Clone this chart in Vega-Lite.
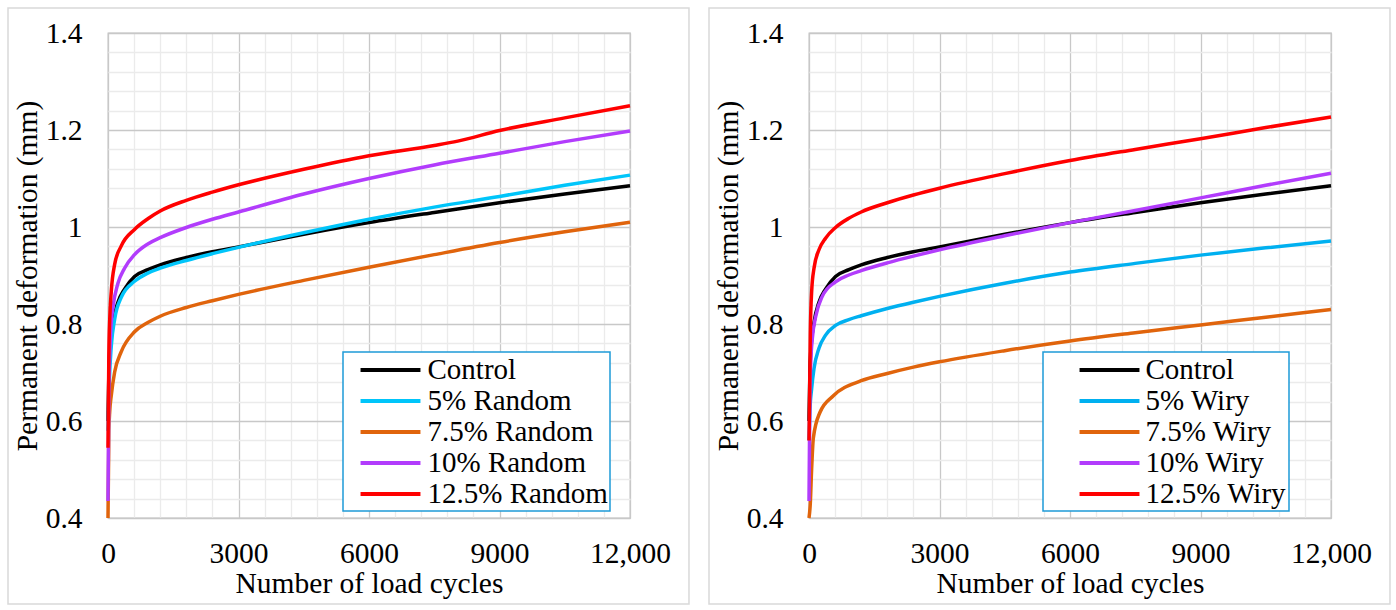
{
  "$schema": "https://vega.github.io/schema/vega-lite/v6.json",
  "background": "white",
  "padding": {"left": 6, "top": 6, "right": 4, "bottom": 4},
  "spacing": 16,
  "datasets": {
    "random": [
      {"series": "Control", "cycles": 0, "def": 0.60},
      {"series": "Control", "cycles": 20, "def": 0.70},
      {"series": "Control", "cycles": 45, "def": 0.75},
      {"series": "Control", "cycles": 115, "def": 0.803},
      {"series": "Control", "cycles": 229, "def": 0.845},
      {"series": "Control", "cycles": 381, "def": 0.872},
      {"series": "Control", "cycles": 610, "def": 0.898},
      {"series": "Control", "cycles": 916, "def": 0.912},
      {"series": "Control", "cycles": 1200, "def": 0.922},
      {"series": "Control", "cycles": 1800, "def": 0.937},
      {"series": "Control", "cycles": 2400, "def": 0.949},
      {"series": "Control", "cycles": 3000, "def": 0.959},
      {"series": "Control", "cycles": 4500, "def": 0.985},
      {"series": "Control", "cycles": 6000, "def": 1.009},
      {"series": "Control", "cycles": 7500, "def": 1.030},
      {"series": "Control", "cycles": 9000, "def": 1.050},
      {"series": "Control", "cycles": 10500, "def": 1.068},
      {"series": "Control", "cycles": 12000, "def": 1.085},
      {"series": "5% Random", "cycles": 0, "def": 0.58},
      {"series": "5% Random", "cycles": 30, "def": 0.68},
      {"series": "5% Random", "cycles": 76, "def": 0.755},
      {"series": "5% Random", "cycles": 153, "def": 0.81},
      {"series": "5% Random", "cycles": 305, "def": 0.855},
      {"series": "5% Random", "cycles": 610, "def": 0.888},
      {"series": "5% Random", "cycles": 916, "def": 0.905},
      {"series": "5% Random", "cycles": 1200, "def": 0.915},
      {"series": "5% Random", "cycles": 1800, "def": 0.931},
      {"series": "5% Random", "cycles": 2400, "def": 0.945},
      {"series": "5% Random", "cycles": 3000, "def": 0.958},
      {"series": "5% Random", "cycles": 4500, "def": 0.988},
      {"series": "5% Random", "cycles": 6000, "def": 1.016},
      {"series": "5% Random", "cycles": 7500, "def": 1.041},
      {"series": "5% Random", "cycles": 9000, "def": 1.063},
      {"series": "5% Random", "cycles": 10500, "def": 1.086},
      {"series": "5% Random", "cycles": 12000, "def": 1.107},
      {"series": "7.5% Random", "cycles": 0, "def": 0.40},
      {"series": "7.5% Random", "cycles": 20, "def": 0.58},
      {"series": "7.5% Random", "cycles": 40, "def": 0.62},
      {"series": "7.5% Random", "cycles": 76, "def": 0.653},
      {"series": "7.5% Random", "cycles": 153, "def": 0.701},
      {"series": "7.5% Random", "cycles": 305, "def": 0.743},
      {"series": "7.5% Random", "cycles": 610, "def": 0.784},
      {"series": "7.5% Random", "cycles": 916, "def": 0.803},
      {"series": "7.5% Random", "cycles": 1200, "def": 0.816},
      {"series": "7.5% Random", "cycles": 1800, "def": 0.834},
      {"series": "7.5% Random", "cycles": 2400, "def": 0.848},
      {"series": "7.5% Random", "cycles": 3000, "def": 0.861},
      {"series": "7.5% Random", "cycles": 4500, "def": 0.890},
      {"series": "7.5% Random", "cycles": 6000, "def": 0.917},
      {"series": "7.5% Random", "cycles": 7500, "def": 0.943},
      {"series": "7.5% Random", "cycles": 9000, "def": 0.968},
      {"series": "7.5% Random", "cycles": 10500, "def": 0.990},
      {"series": "7.5% Random", "cycles": 12000, "def": 1.010},
      {"series": "10% Random", "cycles": 0, "def": 0.435},
      {"series": "10% Random", "cycles": 20, "def": 0.66},
      {"series": "10% Random", "cycles": 40, "def": 0.74},
      {"series": "10% Random", "cycles": 61, "def": 0.785},
      {"series": "10% Random", "cycles": 115, "def": 0.835},
      {"series": "10% Random", "cycles": 229, "def": 0.884},
      {"series": "10% Random", "cycles": 381, "def": 0.915},
      {"series": "10% Random", "cycles": 610, "def": 0.943},
      {"series": "10% Random", "cycles": 916, "def": 0.965},
      {"series": "10% Random", "cycles": 1200, "def": 0.978},
      {"series": "10% Random", "cycles": 1800, "def": 0.999},
      {"series": "10% Random", "cycles": 2400, "def": 1.016},
      {"series": "10% Random", "cycles": 3000, "def": 1.031},
      {"series": "10% Random", "cycles": 4500, "def": 1.068},
      {"series": "10% Random", "cycles": 6000, "def": 1.100},
      {"series": "10% Random", "cycles": 7500, "def": 1.128},
      {"series": "10% Random", "cycles": 9000, "def": 1.152},
      {"series": "10% Random", "cycles": 10500, "def": 1.176},
      {"series": "10% Random", "cycles": 12000, "def": 1.198},
      {"series": "12.5% Random", "cycles": 0, "def": 0.545},
      {"series": "12.5% Random", "cycles": 20, "def": 0.74},
      {"series": "12.5% Random", "cycles": 40, "def": 0.81},
      {"series": "12.5% Random", "cycles": 76, "def": 0.868},
      {"series": "12.5% Random", "cycles": 153, "def": 0.923},
      {"series": "12.5% Random", "cycles": 305, "def": 0.961},
      {"series": "12.5% Random", "cycles": 610, "def": 0.995},
      {"series": "12.5% Random", "cycles": 916, "def": 1.017},
      {"series": "12.5% Random", "cycles": 1200, "def": 1.033},
      {"series": "12.5% Random", "cycles": 1800, "def": 1.055},
      {"series": "12.5% Random", "cycles": 2400, "def": 1.072},
      {"series": "12.5% Random", "cycles": 3000, "def": 1.087},
      {"series": "12.5% Random", "cycles": 4500, "def": 1.119},
      {"series": "12.5% Random", "cycles": 6000, "def": 1.147},
      {"series": "12.5% Random", "cycles": 7500, "def": 1.168},
      {"series": "12.5% Random", "cycles": 8040, "def": 1.177},
      {"series": "12.5% Random", "cycles": 9000, "def": 1.199},
      {"series": "12.5% Random", "cycles": 10500, "def": 1.225},
      {"series": "12.5% Random", "cycles": 12000, "def": 1.250}
    ],
    "wiry": [
      {"series": "Control", "cycles": 0, "def": 0.60},
      {"series": "Control", "cycles": 20, "def": 0.70},
      {"series": "Control", "cycles": 45, "def": 0.75},
      {"series": "Control", "cycles": 115, "def": 0.803},
      {"series": "Control", "cycles": 229, "def": 0.845},
      {"series": "Control", "cycles": 381, "def": 0.872},
      {"series": "Control", "cycles": 610, "def": 0.898},
      {"series": "Control", "cycles": 916, "def": 0.912},
      {"series": "Control", "cycles": 1200, "def": 0.922},
      {"series": "Control", "cycles": 1800, "def": 0.937},
      {"series": "Control", "cycles": 2400, "def": 0.949},
      {"series": "Control", "cycles": 3000, "def": 0.959},
      {"series": "Control", "cycles": 4500, "def": 0.985},
      {"series": "Control", "cycles": 6000, "def": 1.009},
      {"series": "Control", "cycles": 7500, "def": 1.030},
      {"series": "Control", "cycles": 9000, "def": 1.050},
      {"series": "Control", "cycles": 10500, "def": 1.068},
      {"series": "Control", "cycles": 12000, "def": 1.085},
      {"series": "5% Wiry", "cycles": 0, "def": 0.56},
      {"series": "5% Wiry", "cycles": 20, "def": 0.62},
      {"series": "5% Wiry", "cycles": 61, "def": 0.667},
      {"series": "5% Wiry", "cycles": 115, "def": 0.708},
      {"series": "5% Wiry", "cycles": 229, "def": 0.750},
      {"series": "5% Wiry", "cycles": 381, "def": 0.777},
      {"series": "5% Wiry", "cycles": 610, "def": 0.797},
      {"series": "5% Wiry", "cycles": 916, "def": 0.809},
      {"series": "5% Wiry", "cycles": 1200, "def": 0.817},
      {"series": "5% Wiry", "cycles": 1800, "def": 0.832},
      {"series": "5% Wiry", "cycles": 2400, "def": 0.845},
      {"series": "5% Wiry", "cycles": 3000, "def": 0.857},
      {"series": "5% Wiry", "cycles": 4500, "def": 0.884},
      {"series": "5% Wiry", "cycles": 6000, "def": 0.907},
      {"series": "5% Wiry", "cycles": 7500, "def": 0.925},
      {"series": "5% Wiry", "cycles": 9000, "def": 0.942},
      {"series": "5% Wiry", "cycles": 10500, "def": 0.957},
      {"series": "5% Wiry", "cycles": 12000, "def": 0.971},
      {"series": "7.5% Wiry", "cycles": 0, "def": 0.40},
      {"series": "7.5% Wiry", "cycles": 30, "def": 0.43},
      {"series": "7.5% Wiry", "cycles": 60, "def": 0.50},
      {"series": "7.5% Wiry", "cycles": 100, "def": 0.565},
      {"series": "7.5% Wiry", "cycles": 253, "def": 0.618},
      {"series": "7.5% Wiry", "cycles": 560, "def": 0.652},
      {"series": "7.5% Wiry", "cycles": 1200, "def": 0.683},
      {"series": "7.5% Wiry", "cycles": 1800, "def": 0.698},
      {"series": "7.5% Wiry", "cycles": 2400, "def": 0.711},
      {"series": "7.5% Wiry", "cycles": 3000, "def": 0.722},
      {"series": "7.5% Wiry", "cycles": 4500, "def": 0.745},
      {"series": "7.5% Wiry", "cycles": 6000, "def": 0.765},
      {"series": "7.5% Wiry", "cycles": 7500, "def": 0.782},
      {"series": "7.5% Wiry", "cycles": 9000, "def": 0.798},
      {"series": "7.5% Wiry", "cycles": 10500, "def": 0.814},
      {"series": "7.5% Wiry", "cycles": 12000, "def": 0.830},
      {"series": "10% Wiry", "cycles": 0, "def": 0.435},
      {"series": "10% Wiry", "cycles": 20, "def": 0.65},
      {"series": "10% Wiry", "cycles": 40, "def": 0.72},
      {"series": "10% Wiry", "cycles": 76, "def": 0.770},
      {"series": "10% Wiry", "cycles": 153, "def": 0.815},
      {"series": "10% Wiry", "cycles": 305, "def": 0.857},
      {"series": "10% Wiry", "cycles": 610, "def": 0.887},
      {"series": "10% Wiry", "cycles": 916, "def": 0.901},
      {"series": "10% Wiry", "cycles": 1200, "def": 0.910},
      {"series": "10% Wiry", "cycles": 1800, "def": 0.926},
      {"series": "10% Wiry", "cycles": 2400, "def": 0.940},
      {"series": "10% Wiry", "cycles": 3000, "def": 0.953},
      {"series": "10% Wiry", "cycles": 4500, "def": 0.982},
      {"series": "10% Wiry", "cycles": 6000, "def": 1.009},
      {"series": "10% Wiry", "cycles": 7500, "def": 1.034},
      {"series": "10% Wiry", "cycles": 9000, "def": 1.060},
      {"series": "10% Wiry", "cycles": 10500, "def": 1.086},
      {"series": "10% Wiry", "cycles": 12000, "def": 1.111},
      {"series": "12.5% Wiry", "cycles": 0, "def": 0.56},
      {"series": "12.5% Wiry", "cycles": 15, "def": 0.66},
      {"series": "12.5% Wiry", "cycles": 30, "def": 0.78},
      {"series": "12.5% Wiry", "cycles": 61, "def": 0.867},
      {"series": "12.5% Wiry", "cycles": 115, "def": 0.915},
      {"series": "12.5% Wiry", "cycles": 229, "def": 0.953},
      {"series": "12.5% Wiry", "cycles": 381, "def": 0.977},
      {"series": "12.5% Wiry", "cycles": 610, "def": 0.999},
      {"series": "12.5% Wiry", "cycles": 916, "def": 1.018},
      {"series": "12.5% Wiry", "cycles": 1200, "def": 1.031},
      {"series": "12.5% Wiry", "cycles": 1800, "def": 1.050},
      {"series": "12.5% Wiry", "cycles": 2400, "def": 1.066},
      {"series": "12.5% Wiry", "cycles": 3000, "def": 1.080},
      {"series": "12.5% Wiry", "cycles": 4500, "def": 1.110},
      {"series": "12.5% Wiry", "cycles": 6000, "def": 1.137},
      {"series": "12.5% Wiry", "cycles": 7500, "def": 1.160},
      {"series": "12.5% Wiry", "cycles": 9000, "def": 1.182},
      {"series": "12.5% Wiry", "cycles": 10500, "def": 1.205},
      {"series": "12.5% Wiry", "cycles": 12000, "def": 1.227}
    ]
  },
  "hconcat": [
    {
      "width": 522,
      "height": 485,
      "layer": [
        {
          "data": {"values": [{}]},
          "mark": {"type": "rect", "fill": null, "stroke": "#d9d9d9", "strokeWidth": 1.5, "clip": false},
          "encoding": {
            "x": {"datum": -2299, "type": "quantitative", "scale": {"domain": [0, 12000], "nice": false, "zero": false}, "axis": null},
            "x2": {"datum": 13356},
            "y": {"datum": 1.4515, "type": "quantitative", "scale": {"domain": [0.4, 1.4], "nice": false, "zero": false}, "axis": null},
            "y2": {"datum": 0.2227}
          }
        },
        {
          "data": {"name": "random"},
          "mark": {"type": "line", "strokeWidth": 3.5, "interpolate": "monotone"},
          "encoding": {
            "x": {
              "field": "cycles",
              "type": "quantitative",
              "scale": {"domain": [0, 12000], "nice": false, "zero": false},
              "axis": {
                "orient": "bottom",
                "title": "Number of load cycles",
                "values": [0, 600, 1200, 1800, 2400, 3000, 3600, 4200, 4800, 5400, 6000, 6600, 7200, 7800, 8400, 9000, 9600, 10200, 10800, 11400, 12000],
                "format": "d",
                "labelExpr": "datum.value == 12000 ? '12,000' : (datum.value % 3000 == 0 ? datum.label : '')",
                "grid": true,
                "gridColor": {"condition": {"test": "datum.value % 3000 == 0", "value": "#c8c8c8"}, "value": "#ebebeb"},
                "labelOverlap": false,
                "labelFlush": false,
                "labelPadding": 21,
                "titlePadding": 2
              }
            },
            "y": {
              "field": "def",
              "type": "quantitative",
              "scale": {"domain": [0.4, 1.4], "nice": false, "zero": false},
              "axis": {
                "orient": "left",
                "title": "Permanent deformation (mm)",
                "values": [0.4, 0.44, 0.48, 0.52, 0.56, 0.6, 0.64, 0.68, 0.72, 0.76, 0.8, 0.84, 0.88, 0.92, 0.96, 1, 1.04, 1.08, 1.12, 1.16, 1.2, 1.24, 1.28, 1.32, 1.36, 1.4],
                "format": "~g",
                "labelExpr": "round(datum.value * 100) % 20 == 0 ? datum.label : ''",
                "grid": true,
                "gridColor": {"condition": {"test": "round(datum.value * 100) % 20 == 0", "value": "#c8c8c8"}, "value": "#ebebeb"},
                "labelOverlap": false,
                "labelFlush": false,
                "labelPadding": 26,
                "titlePadding": 3
              }
            },
            "color": {
              "field": "series",
              "type": "nominal",
              "scale": {
                "domain": ["Control", "5% Random", "7.5% Random", "10% Random", "12.5% Random"],
                "range": ["#000000", "#00c5fa", "#e0640c", "#b23cfc", "#ff0000"]
              },
              "legend": {"orient": "none", "legendX": 235, "legendY": 319, "symbolOffset": 29.5, "labelOffset": 21}
            }
          }
        }
      ],
      "resolve": {"scale": {"x": "independent", "y": "independent"}, "axis": {"x": "independent", "y": "independent"}}
    },
    {
      "width": 522,
      "height": 485,
      "layer": [
        {
          "data": {"values": [{}]},
          "mark": {"type": "rect", "fill": null, "stroke": "#d9d9d9", "strokeWidth": 1.5, "clip": false},
          "encoding": {
            "x": {"datum": -2299, "type": "quantitative", "scale": {"domain": [0, 12000], "nice": false, "zero": false}, "axis": null},
            "x2": {"datum": 13356},
            "y": {"datum": 1.4515, "type": "quantitative", "scale": {"domain": [0.4, 1.4], "nice": false, "zero": false}, "axis": null},
            "y2": {"datum": 0.2227}
          }
        },
        {
          "data": {"name": "wiry"},
          "mark": {"type": "line", "strokeWidth": 3.5, "interpolate": "monotone"},
          "encoding": {
            "x": {
              "field": "cycles",
              "type": "quantitative",
              "scale": {"domain": [0, 12000], "nice": false, "zero": false},
              "axis": {
                "orient": "bottom",
                "title": "Number of load cycles",
                "values": [0, 600, 1200, 1800, 2400, 3000, 3600, 4200, 4800, 5400, 6000, 6600, 7200, 7800, 8400, 9000, 9600, 10200, 10800, 11400, 12000],
                "format": "d",
                "labelExpr": "datum.value == 12000 ? '12,000' : (datum.value % 3000 == 0 ? datum.label : '')",
                "grid": true,
                "gridColor": {"condition": {"test": "datum.value % 3000 == 0", "value": "#c8c8c8"}, "value": "#ebebeb"},
                "labelOverlap": false,
                "labelFlush": false,
                "labelPadding": 21,
                "titlePadding": 2
              }
            },
            "y": {
              "field": "def",
              "type": "quantitative",
              "scale": {"domain": [0.4, 1.4], "nice": false, "zero": false},
              "axis": {
                "orient": "left",
                "title": "Permanent deformation (mm)",
                "values": [0.4, 0.44, 0.48, 0.52, 0.56, 0.6, 0.64, 0.68, 0.72, 0.76, 0.8, 0.84, 0.88, 0.92, 0.96, 1, 1.04, 1.08, 1.12, 1.16, 1.2, 1.24, 1.28, 1.32, 1.36, 1.4],
                "format": "~g",
                "labelExpr": "round(datum.value * 100) % 20 == 0 ? datum.label : ''",
                "grid": true,
                "gridColor": {"condition": {"test": "round(datum.value * 100) % 20 == 0", "value": "#c8c8c8"}, "value": "#ebebeb"},
                "labelOverlap": false,
                "labelFlush": false,
                "labelPadding": 26,
                "titlePadding": 3
              }
            },
            "color": {
              "field": "series",
              "type": "nominal",
              "scale": {
                "domain": ["Control", "5% Wiry", "7.5% Wiry", "10% Wiry", "12.5% Wiry"],
                "range": ["#000000", "#00b0f0", "#e0640c", "#b23cfc", "#ff0000"]
              },
              "legend": {"orient": "none", "legendX": 234, "legendY": 319, "symbolOffset": 48.5, "labelOffset": 20}
            }
          }
        }
      ],
      "resolve": {"scale": {"x": "independent", "y": "independent"}, "axis": {"x": "independent", "y": "independent"}}
    }
  ],
  "resolve": {"scale": {"color": "independent"}, "legend": {"color": "independent"}},
  "config": {
    "font": "Liberation Serif, Times New Roman, serif",
    "view": {"stroke": "#bfbfbf", "strokeWidth": 1.3},
    "axis": {
      "labelFont": "Liberation Serif, Times New Roman, serif",
      "labelFontSize": 29.5,
      "labelColor": "#000000",
      "titleFont": "Liberation Serif, Times New Roman, serif",
      "titleFontSize": 29.5,
      "titleFontWeight": "normal",
      "titleColor": "#000000",
      "domain": false,
      "ticks": false,
      "gridWidth": 1.3
    },
    "legend": {
      "title": null,
      "symbolType": "M-2.14,0H2.14",
      "symbolSize": 784,
      "symbolStrokeWidth": 4,
      "labelFont": "Liberation Serif, Times New Roman, serif",
      "labelFontSize": 29,
      "labelColor": "#000000",
      "labelLimit": 400,
      "padding": 2,
      "rowPadding": 0,
      "strokeColor": "#1e9bd7",
      "strokeWidth": 1.5,
      "fillColor": "#ffffff"
    }
  }
}
